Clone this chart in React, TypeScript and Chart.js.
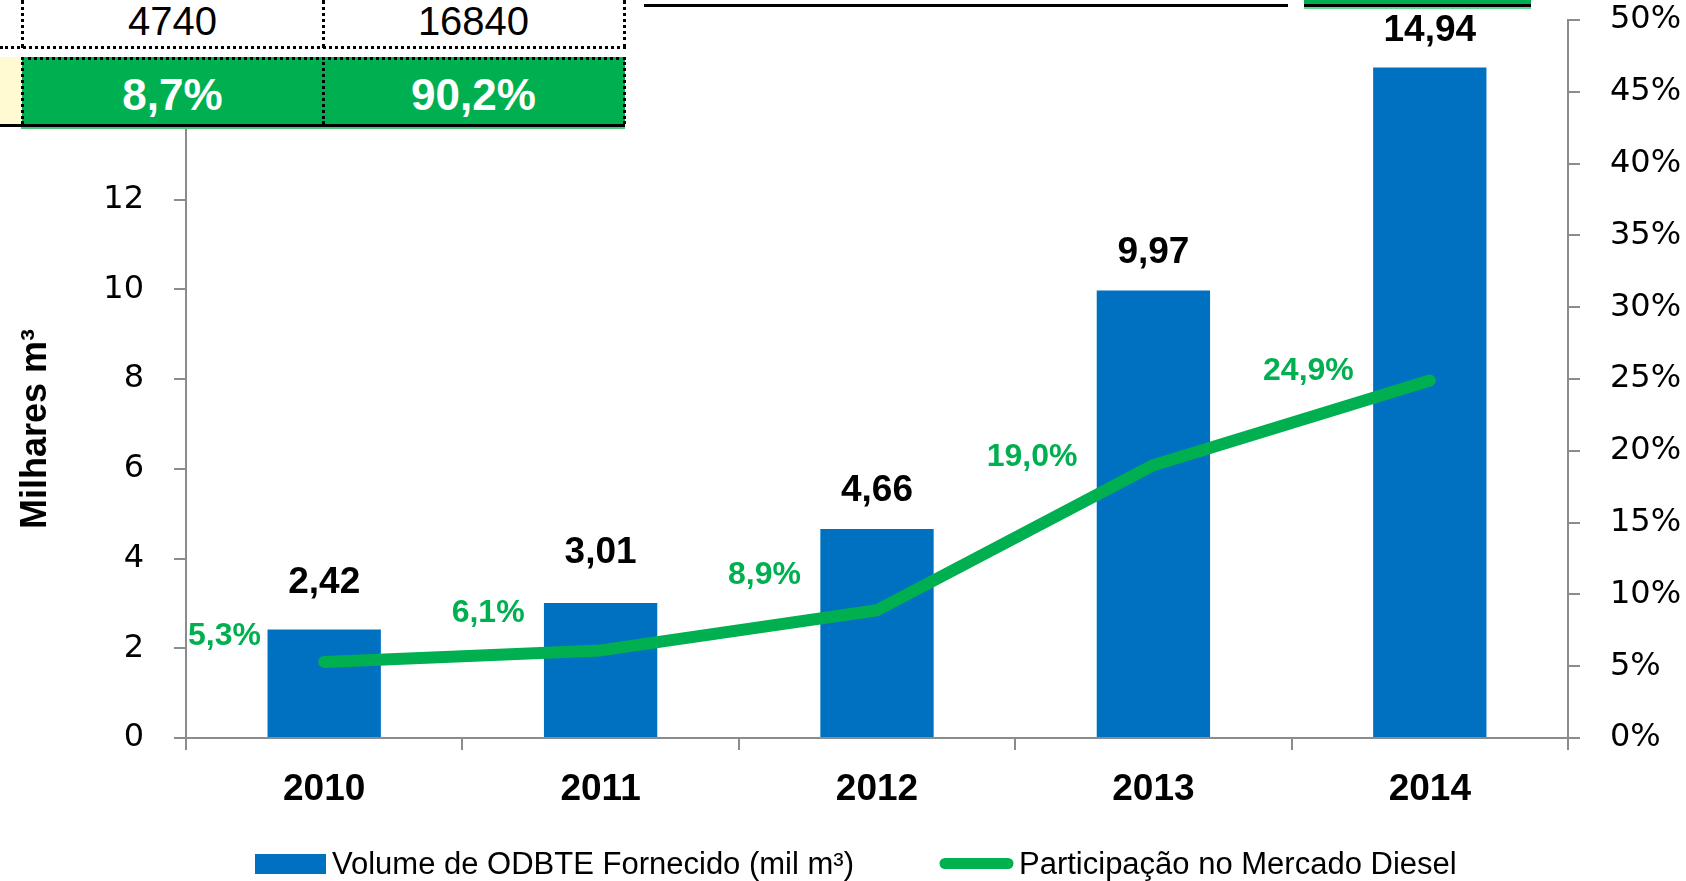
import React, { useEffect, useRef } from "react";
import { Chart, registerables } from "chart.js";

Chart.register(...registerables);

// ---- data ----
const YEARS = ["2010", "2011", "2012", "2013", "2014"];
const VOLUME = [2.42, 3.01, 4.66, 9.97, 14.94];
const SHARE = [5.3, 6.1, 8.9, 19.0, 24.9];
const LEFT_MIN = 0;
const LEFT_MAX = 16;
const LEFT_STEP = 2;
const RIGHT_MIN = 0;
const RIGHT_MAX = 50;
const RIGHT_STEP = 5;
const SERIES_NAMES = ["Volume de ODBTE Fornecido (mil m³)", "Participação no Mercado Diesel"];
const AXIS_TITLE = "Milhares m³";
const TABLE_ROW1 = ["4740", "16840"];
const TABLE_ROW2 = ["8,7%", "90,2%"];

// ---- presentation ----
const BAR_COLOR = "#0070C0";
const LINE_COLOR = "#00B050";
const AXIS_GRAY = "#8C8C8C";
const BAR_LABEL_DY = [-47, -50, -38, -38, -37];
const LINE_LABEL_DY = [-26, -37, -35, -8, -9];
const W = 1686;
const H = 881;

const fmt = (v: number, d: number) => v.toFixed(d).replace(".", ",");

export default function App() {
  const ref = useRef<HTMLCanvasElement | null>(null);

  useEffect(() => {
    if (!ref.current) return;

    const labelsPlugin = {
      id: "valueLabels",
      afterDatasetsDraw(chart: any) {
        const ctx = chart.ctx as CanvasRenderingContext2D;
        ctx.save();
        const barMeta = chart.getDatasetMeta(0);
        ctx.font = "bold 37px 'Liberation Sans'";
        ctx.fillStyle = "#000";
        ctx.textAlign = "center";
        ctx.textBaseline = "middle";
        barMeta.data.forEach((el: any, i: number) => {
          ctx.fillText(fmt(VOLUME[i], 2), el.x, el.y + BAR_LABEL_DY[i]);
        });
        const lineMeta = chart.getDatasetMeta(1);
        ctx.font = "bold 32px 'Liberation Sans'";
        ctx.fillStyle = LINE_COLOR;
        ctx.textAlign = "right";
        lineMeta.data.forEach((pt: any, i: number) => {
          const text = fmt(SHARE[i], 1) + "%";
          const w = ctx.measureText(text).width;
          let right = pt.x - 76;
          const minRight = chart.chartArea.left + 2 + w;
          if (right < minRight) right = minRight;
          ctx.fillText(text, right, pt.y + LINE_LABEL_DY[i]);
        });
        ctx.restore();
      },
      afterDraw(chart: any) {
        const ctx = chart.ctx as CanvasRenderingContext2D;
        ctx.save();
        // axis title
        ctx.translate(46, 429);
        ctx.rotate(-Math.PI / 2);
        ctx.font = "bold 36px 'Liberation Sans'";
        ctx.fillStyle = "#000";
        ctx.textAlign = "center";
        ctx.textBaseline = "alphabetic";
        ctx.fillText(AXIS_TITLE, 0, 0);
        ctx.restore();

        // legend
        ctx.save();
        const ds = chart.data.datasets;
        const cy = 864;
        ctx.fillStyle = ds[0].backgroundColor;
        ctx.fillRect(255, cy - 10, 71, 20);
        ctx.strokeStyle = ds[1].borderColor;
        ctx.lineWidth = 11;
        ctx.lineCap = "round";
        ctx.beginPath();
        ctx.moveTo(945, cy - 0.5);
        ctx.lineTo(1008, cy - 0.5);
        ctx.stroke();
        ctx.font = "31px 'Liberation Sans'";
        ctx.fillStyle = "#000";
        ctx.textAlign = "left";
        ctx.textBaseline = "middle";
        ctx.fillText(ds[0].label, 332, cy + 1);
        ctx.fillText(ds[1].label, 1019, cy + 1);
        ctx.restore();
      },
    };

    const noPad = (s: any) => {
      s.paddingTop = 0;
      s.paddingBottom = 0;
    };

    const chart = new Chart(ref.current, {
      type: "bar",
      data: {
        labels: YEARS,
        datasets: [
          {
            type: "bar",
            label: SERIES_NAMES[0],
            data: VOLUME,
            backgroundColor: BAR_COLOR,
            barPercentage: 0.41,
            categoryPercentage: 1,
            yAxisID: "y",
            order: 2,
          },
          {
            type: "line",
            label: SERIES_NAMES[1],
            data: SHARE,
            borderColor: LINE_COLOR,
            backgroundColor: LINE_COLOR,
            borderWidth: 12,
            pointRadius: 0,
            borderCapStyle: "round",
            borderJoinStyle: "round",
            tension: 0,
            yAxisID: "y1",
            order: 1,
          },
        ],
      } as any,
      options: {
        animation: false,
        responsive: false,
        maintainAspectRatio: false,
        layout: { padding: { left: 0, right: 0, top: 20, bottom: 0 } },
        scales: {
          x: {
            type: "category",
            offset: true,
            grid: {
              display: true,
              drawOnChartArea: false,
              drawTicks: true,
              tickLength: 12,
              color: AXIS_GRAY,
              lineWidth: 2,
              offset: true,
            },
            border: { display: true, color: AXIS_GRAY, width: 2 },
            ticks: {
              color: "#000",
              padding: 18,
              maxRotation: 0,
              autoSkip: false,
              font: { family: "'Liberation Sans'", size: 37, weight: "bold" },
            },
            afterFit: (s: any) => {
              s.height = H - 738;
              s.paddingLeft = 0;
              s.paddingRight = 0;
            },
          },
          y: {
            position: "left",
            min: LEFT_MIN,
            max: LEFT_MAX,
            grid: {
              display: true,
              drawOnChartArea: false,
              drawTicks: true,
              tickLength: 12,
              color: AXIS_GRAY,
              lineWidth: 2,
            },
            border: { display: true, color: AXIS_GRAY, width: 2 },
            ticks: {
              stepSize: LEFT_STEP,
              color: "#000",
              padding: 30,
              font: { family: "'DejaVu Sans'", size: 32 },
            },
            afterFit: (s: any) => {
              s.width = 186;
              noPad(s);
            },
          },
          y1: {
            position: "right",
            min: RIGHT_MIN,
            max: RIGHT_MAX,
            grid: {
              display: true,
              drawOnChartArea: false,
              drawTicks: true,
              tickLength: 12,
              color: AXIS_GRAY,
              lineWidth: 2,
            },
            border: { display: true, color: AXIS_GRAY, width: 2 },
            ticks: {
              stepSize: RIGHT_STEP,
              color: "#000",
              padding: 30,
              font: { family: "'DejaVu Sans'", size: 32 },
              callback: (v: any) => `${v}%`,
            },
            afterFit: (s: any) => {
              s.width = W - 1568;
              noPad(s);
            },
          },
        },
        plugins: {
          tooltip: { enabled: false },
          legend: { display: false },
        },
      } as any,
      plugins: [labelsPlugin],
    });
    return () => chart.destroy();
  }, []);

  const dotH = (left: number, top: number, width: number) => (
    <div style={{ position: "absolute", left, top, width, height: 0, borderTop: "3px dotted #000" }} />
  );
  const dotV = (left: number, top: number, height: number) => (
    <div style={{ position: "absolute", left, top, width: 0, height, borderLeft: "3px dotted #000" }} />
  );
  const cellText = (text: string, left: number, top: number, style: React.CSSProperties) => (
    <div
      style={{
        position: "absolute",
        left,
        top,
        width: 301,
        textAlign: "center",
        whiteSpace: "nowrap",
        fontFamily: "'Liberation Sans'",
        ...style,
      }}
    >
      {text}
    </div>
  );

  return (
    <div style={{ position: "fixed", left: 0, top: 0, width: W, height: H, background: "#fff", overflow: "hidden" }}>
      <canvas ref={ref} width={W} height={H} style={{ position: "absolute", left: 0, top: 0, width: W, height: H }} />
      {/* spreadsheet fragment overlapping the chart */}
      <div style={{ position: "absolute", left: 0, top: 0, width: 626, height: 129, background: "#fff" }} />
      <div style={{ position: "absolute", left: 0, top: 57, width: 22, height: 67, background: "#FFFAD2" }} />
      <div style={{ position: "absolute", left: 22, top: 57, width: 603, height: 67, background: LINE_COLOR }} />
      {dotH(0, 46, 626)}
      {dotH(21, 57, 605)}
      {dotV(21, 0, 48)}
      {dotV(322, 0, 48)}
      {dotV(623, 0, 48)}
      {dotV(21, 57, 67)}
      {dotV(322, 57, 67)}
      {dotV(623, 57, 67)}
      <div style={{ position: "absolute", left: 0, top: 124, width: 625, height: 3, background: "#000" }} />
      <div style={{ position: "absolute", left: 21, top: 127, width: 604, height: 2, background: "#4CC47A" }} />
      {cellText(TABLE_ROW1[0], 22, 1, { fontSize: 40, lineHeight: "40px", color: "#000" })}
      {cellText(TABLE_ROW1[1], 323, 1, { fontSize: 40, lineHeight: "40px", color: "#000" })}
      {cellText(TABLE_ROW2[0], 22, 73, { fontSize: 44, lineHeight: "44px", color: "#fff", fontWeight: "bold" })}
      {cellText(TABLE_ROW2[1], 323, 73, { fontSize: 44, lineHeight: "44px", color: "#fff", fontWeight: "bold" })}
      {/* stray border lines at the top */}
      <div style={{ position: "absolute", left: 644, top: 4, width: 644, height: 3, background: "#000" }} />
      <div style={{ position: "absolute", left: 1304, top: 0, width: 227, height: 4, background: LINE_COLOR }} />
      <div style={{ position: "absolute", left: 1304, top: 4, width: 227, height: 3, background: "#000" }} />
      <div style={{ position: "absolute", left: 1304, top: 7, width: 227, height: 2, background: "#5FD98E" }} />
    </div>
  );
}
